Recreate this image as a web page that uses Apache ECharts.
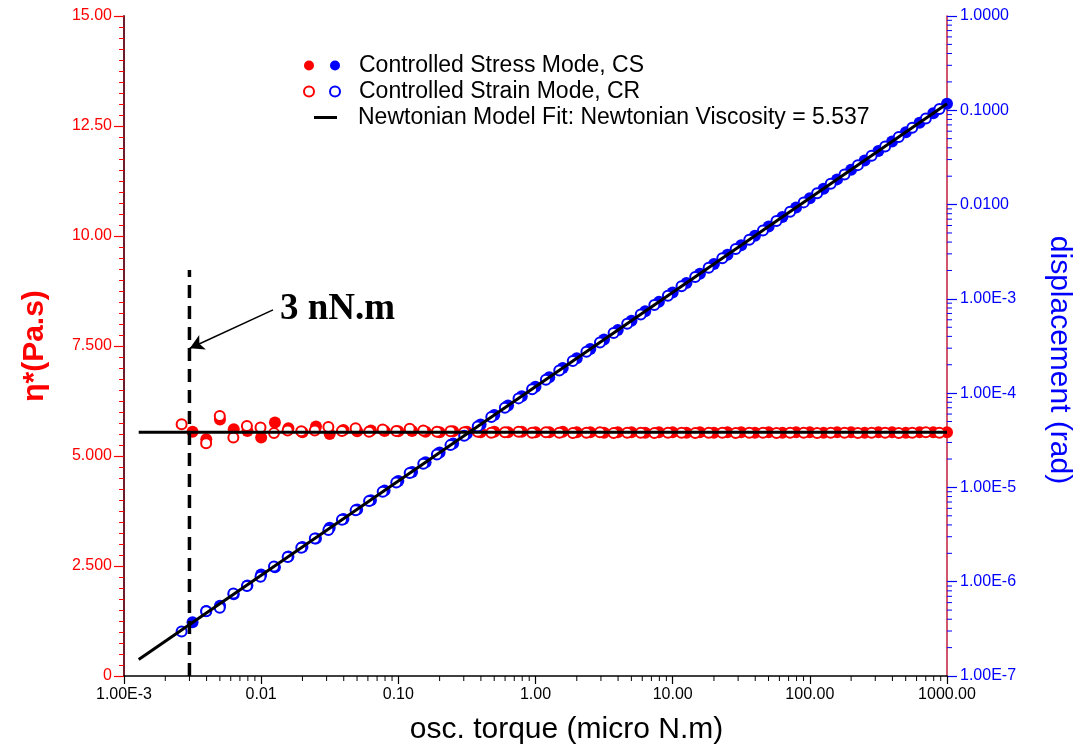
<!DOCTYPE html>
<html>
<head>
<meta charset="utf-8">
<title>Newtonian fit</title>
<script src="https://cdn.jsdelivr.net/npm/echarts@6/dist/echarts.min.js"></script>
<style>
html, body { margin: 0; padding: 0; background: #fff; }
#main { width: 1074px; height: 748px; }
</style>
</head>
<body>
<div id="main"></div>
<script>
// controlled stress mode (CS): osc. torque (micro N.m), eta* (Pa.s), displacement (rad)
var csTorque = [0.00316, 0.00398, 0.00501, 0.00631, 0.00794, 0.0100, 0.0126, 0.0158, 0.0200, 0.0251,
  0.0316, 0.0398, 0.0501, 0.0631, 0.0794, 0.100, 0.126, 0.158, 0.200, 0.251,
  0.316, 0.398, 0.501, 0.631, 0.794, 1.00, 1.26, 1.58, 2.00, 2.51,
  3.16, 3.98, 5.01, 6.31, 7.94, 10.0, 12.6, 15.8, 20.0, 25.1,
  31.6, 39.8, 50.1, 63.1, 79.4, 100, 126, 158, 200, 251,
  316, 398, 501, 631, 794, 1000];
var csViscosity = [5.55, 5.38, 5.83, 5.61, 5.57, 5.42, 5.76, 5.63, 5.54, 5.67,
  5.50, 5.59, 5.56, 5.58, 5.57, 5.56, 5.57, 5.55, 5.54, 5.56,
  5.55, 5.54, 5.55, 5.54, 5.55, 5.54, 5.54, 5.55, 5.54, 5.54,
  5.53, 5.54, 5.54, 5.53, 5.54, 5.54, 5.53, 5.54, 5.53, 5.54,
  5.54, 5.53, 5.54, 5.53, 5.54, 5.54, 5.53, 5.54, 5.54, 5.53,
  5.54, 5.54, 5.53, 5.54, 5.54, 5.54];
var csDisplacement = [3.72e-7, 4.90e-7, 5.55e-7, 7.36e-7, 9.10e-7, 1.19e-6, 1.42e-6, 1.85e-6, 2.34e-6, 2.87e-6,
  3.74e-6, 4.62e-6, 5.84e-6, 7.33e-6, 9.25e-6, 1.17e-5, 1.46e-5, 1.85e-5, 2.34e-5, 2.93e-5,
  3.70e-5, 4.66e-5, 5.86e-5, 7.38e-5, 9.29e-5, 1.17e-4, 1.47e-4, 1.85e-4, 2.34e-4, 2.94e-4,
  3.70e-4, 4.66e-4, 5.86e-4, 7.38e-4, 9.29e-4, 1.17e-3, 1.47e-3, 1.85e-3, 2.34e-3, 2.94e-3,
  3.70e-3, 4.66e-3, 5.86e-3, 7.38e-3, 9.29e-3, 1.17e-2, 1.47e-2, 1.85e-2, 2.34e-2, 2.94e-2,
  3.70e-2, 4.66e-2, 5.86e-2, 7.38e-2, 9.29e-2, 0.117];

// controlled strain mode (CR)
var crTorque = [0.00263, 0.00397, 0.00499, 0.00627, 0.00787, 0.00989, 0.0124, 0.0156, 0.0196, 0.0246,
  0.0309, 0.0388, 0.0488, 0.0612, 0.0769, 0.0966, 0.121, 0.152, 0.191, 0.240,
  0.302, 0.379, 0.476, 0.598, 0.752, 0.944, 1.19, 1.49, 1.87, 2.35,
  2.95, 3.71, 4.66, 5.85, 7.35, 9.23, 11.6, 14.6, 18.3, 23.0,
  28.8, 36.2, 45.5, 57.1, 71.8, 90.2, 113, 142, 179, 224,
  282, 354, 445, 558, 701, 881];
var crViscosity = [5.72, 5.29, 5.91, 5.42, 5.68, 5.65, 5.52, 5.58, 5.56, 5.58,
  5.66, 5.57, 5.63, 5.55, 5.60, 5.57, 5.62, 5.58, 5.55, 5.56,
  5.54, 5.55, 5.53, 5.54, 5.55, 5.53, 5.54, 5.53, 5.52, 5.53,
  5.54, 5.52, 5.53, 5.53, 5.52, 5.53, 5.53, 5.52, 5.53, 5.53,
  5.52, 5.53, 5.53, 5.52, 5.53, 5.53, 5.52, 5.53, 5.53, 5.52,
  5.53, 5.53, 5.52, 5.53, 5.54, 5.53];
var crDisplacement = [2.97e-7, 4.86e-7, 5.30e-7, 7.50e-7, 8.98e-7, 1.13e-6, 1.45e-6, 1.83e-6, 2.29e-6, 2.88e-6,
  3.54e-6, 4.54e-6, 5.71e-6, 7.16e-6, 9.00e-6, 1.13e-5, 1.42e-5, 1.78e-5, 2.23e-5, 2.81e-5,
  3.53e-5, 4.43e-5, 5.57e-5, 7.00e-5, 8.80e-5, 1.10e-4, 1.39e-4, 1.74e-4, 2.19e-4, 2.75e-4,
  3.45e-4, 4.34e-4, 5.45e-4, 6.84e-4, 8.60e-4, 1.08e-3, 1.36e-3, 1.71e-3, 2.14e-3, 2.69e-3,
  3.37e-3, 4.24e-3, 5.32e-3, 6.68e-3, 8.40e-3, 1.055e-2, 1.32e-2, 1.66e-2, 2.09e-2, 2.62e-2,
  3.30e-2, 4.14e-2, 5.21e-2, 6.53e-2, 8.20e-2, 0.103];

// newtonian model fit
var fitTorque = [0.00128, 1000];
var fitViscosity = [5.537, 5.537];
var fitDisplacement = [1.50e-7, 0.117];

// 3 nN.m marker
var limitTorque = [0.003, 0.003];
var limitViscosity = [0, 9.23];
var arrowFrom = [0.0122, 8.32];
var arrowTo = [0.00302, 7.45];

// ticks
var xTickLabels = ['1.00E-3', '0.01', '0.10', '1.00', '10.00', '100.00', '1000.00'];
var leftTickLabels = ['0', '2.500', '5.000', '7.500', '10.00', '12.50', '15.00'];
var rightTickLabels = ['1.00E-7', '1.00E-6', '1.00E-5', '1.00E-4', '1.00E-3', '0.0100', '0.1000', '1.0000'];
var minorMantissas = [2, 3, 4, 5, 6, 7, 8, 9];
var xDecades = [0.001, 0.01, 0.1, 1, 10, 100];
var rightDecades = [1e-7, 1e-6, 1e-5, 1e-4, 1e-3, 1e-2, 1e-1];

var fitName = 'Newtonian Model Fit: Newtonian Viscosity = 5.537';
var font = 'Liberation Sans, Arial, Helvetica, sans-serif';

function pairs(xs, ys) {
  return xs.map(function (x, i) { return [x, ys[i]]; });
}
function minorValues(decades) {
  var out = [];
  decades.forEach(function (d) {
    minorMantissas.forEach(function (m) { out.push(+(d * m).toPrecision(3)); });
  });
  return out;
}

var myChart = echarts.init(document.getElementById('main'));

var option = {
  animation: false,
  backgroundColor: '#fff',
  textStyle: { fontFamily: font },
  grid: { left: 124, right: 127, top: 16, bottom: 72, outerBoundsMode: 'none', containLabel: false },
  legend: [{
    orient: 'vertical', left: 298, top: 49,
    itemWidth: 10, itemHeight: 10, itemGap: 3,
    selectedMode: false,
    data: ['CS eta', 'CR eta'],
    formatter: function () { return ' '; },
    textStyle: { fontSize: 23, lineHeight: 23, fontFamily: font }
  }, {
    orient: 'vertical', left: 324, top: 49,
    itemWidth: 10, itemHeight: 10, itemGap: 3,
    selectedMode: false,
    data: ['Controlled Stress Mode, CS', 'Controlled Strain Mode, CR'],
    textStyle: { fontSize: 23, lineHeight: 23, color: '#000', fontFamily: font, padding: [0, 0, 0, 14] }
  }, {
    left: 309, top: 101,
    itemWidth: 23, itemHeight: 3,
    selectedMode: false,
    data: [{ name: fitName, icon: 'rect' }],
    textStyle: { fontSize: 23, lineHeight: 23, color: '#000', fontFamily: font, padding: [0, 0, 0, 16] }
  }],
  xAxis: {
    type: 'log', logBase: 10, min: 0.001, max: 1000, splitNumber: 6,
    name: 'osc. torque (micro N.m)', nameLocation: 'middle', nameGap: 39,
    nameTextStyle: { fontSize: 30, color: '#000', fontFamily: font, padding: [0, 0, 0, 62] },
    axisLine: { lineStyle: { color: '#000', width: 1.5 } },
    axisTick: { inside: false, length: 8, lineStyle: { color: '#000', width: 1.2 } },
    minorTick: { show: false },
    splitLine: { show: false },
    axisLabel: {
      color: '#000', fontSize: 16, margin: 11, fontFamily: font,
      formatter: function (v) { return xTickLabels[Math.round(Math.log10(v)) + 3]; }
    }
  },
  yAxis: [{
    type: 'value', min: 0, max: 15, interval: 2.5, position: 'left',
    name: 'η*(Pa.s)', nameLocation: 'middle', nameGap: 74,
    nameTextStyle: { fontSize: 30, fontWeight: 'bold', color: '#ff0000', fontFamily: font },
    axisLine: { show: true, lineStyle: { color: '#6e1d2b', width: 2 } },
    axisTick: { show: true, length: 10, lineStyle: { color: '#ff0000', width: 1.2 } },
    minorTick: { show: true, splitNumber: 10, length: 5, lineStyle: { color: '#ff0000', width: 1 } },
    splitLine: { show: false },
    axisLabel: {
      color: '#ff0000', fontSize: 16, margin: 12, fontFamily: font,
      formatter: function (v) { return leftTickLabels[Math.round(v / 2.5)]; }
    }
  }, {
    type: 'log', logBase: 10, min: 1e-7, max: 1, splitNumber: 7, position: 'right',
    name: 'displacement (rad)', nameLocation: 'middle', nameGap: 97, nameRotate: -90,
    nameTextStyle: { fontSize: 30, color: '#0000ff', fontFamily: font, padding: [0, 0, 0, 28] },
    axisLine: { show: true, lineStyle: { color: '#c21e3c', width: 1.5 } },
    axisTick: { show: true, length: 10, lineStyle: { color: '#0000ff', width: 1.2 } },
    minorTick: { show: false },
    splitLine: { show: false },
    axisLabel: {
      color: '#0000ff', fontSize: 16, margin: 13, fontFamily: font,
      formatter: function (v) { return rightTickLabels[Math.round(Math.log10(v)) + 7]; }
    }
  }],
  series: [{
    name: 'CS eta', type: 'scatter', yAxisIndex: 0, clip: false,
    symbol: 'circle', symbolSize: 12,
    itemStyle: { color: '#ff0000', opacity: 1 },
    data: pairs(csTorque, csViscosity)
  }, {
    name: 'Controlled Stress Mode, CS', type: 'scatter', yAxisIndex: 1, clip: false,
    symbol: 'circle', symbolSize: 12,
    itemStyle: { color: '#0000ff', opacity: 1 },
    data: pairs(csTorque, csDisplacement)
  }, {
    name: 'CR eta', type: 'scatter', yAxisIndex: 0, clip: false,
    symbol: 'emptyCircle', symbolSize: 10,
    itemStyle: { color: '#ff0000', borderWidth: 1.5, opacity: 1 },
    data: pairs(crTorque, crViscosity)
  }, {
    name: 'Controlled Strain Mode, CR', type: 'scatter', yAxisIndex: 1, clip: false,
    symbol: 'emptyCircle', symbolSize: 10,
    itemStyle: { color: '#0000ff', borderWidth: 1.5, opacity: 1 },
    data: pairs(crTorque, crDisplacement)
  }, {
    name: fitName, type: 'line', yAxisIndex: 0, showSymbol: false, symbol: 'none', z: 5,
    color: '#000', lineStyle: { color: '#000', width: 3 },
    data: pairs(fitTorque, fitViscosity)
  }, {
    name: fitName, type: 'line', yAxisIndex: 1, showSymbol: false, symbol: 'none', z: 5,
    color: '#000', lineStyle: { color: '#000', width: 3 },
    data: pairs(fitTorque, fitDisplacement)
  }, {
    name: '3 nN.m', type: 'line', yAxisIndex: 0, symbol: 'none', z: 6, silent: true,
    lineStyle: { color: '#000', width: 3.5, type: [13, 8] },
    data: pairs(limitTorque, limitViscosity),
    markLine: {
      silent: true, symbol: ['none', 'arrow'], symbolSize: [12, 14],
      label: { show: false },
      lineStyle: { color: '#000', width: 1.5, type: 'solid' },
      data: [[{ coord: arrowFrom }, { coord: arrowTo }]]
    }
  }, {
    // log minor ticks on the torque axis
    name: 'x minor ticks', type: 'custom', yAxisIndex: 0, silent: true, clip: false,
    data: minorValues(xDecades).map(function (v) { return [v, 0]; }),
    renderItem: function (params, api) {
      var p = api.coord([api.value(0), 0]);
      return { type: 'line', shape: { x1: p[0], y1: p[1], x2: p[0], y2: p[1] + 5 },
        style: { stroke: '#000', lineWidth: 1 } };
    }
  }, {
    // log minor ticks on the displacement axis
    name: 'right minor ticks', type: 'custom', yAxisIndex: 1, silent: true, clip: false,
    data: minorValues(rightDecades).map(function (v) { return [1000, v]; }),
    renderItem: function (params, api) {
      var p = api.coord([1000, api.value(1)]);
      return { type: 'line', shape: { x1: p[0], y1: p[1], x2: p[0] + 5, y2: p[1] },
        style: { stroke: '#0000ff', lineWidth: 1 } };
    }
  }],
  graphic: [{
    type: 'text', left: 280, top: 291, z: 10,
    style: { text: '3 nN.m', fill: '#000', font: 'bold 37px "Liberation Serif", "Times New Roman", serif' }
  }]
};

myChart.setOption(option);
</script>
</body>
</html>
